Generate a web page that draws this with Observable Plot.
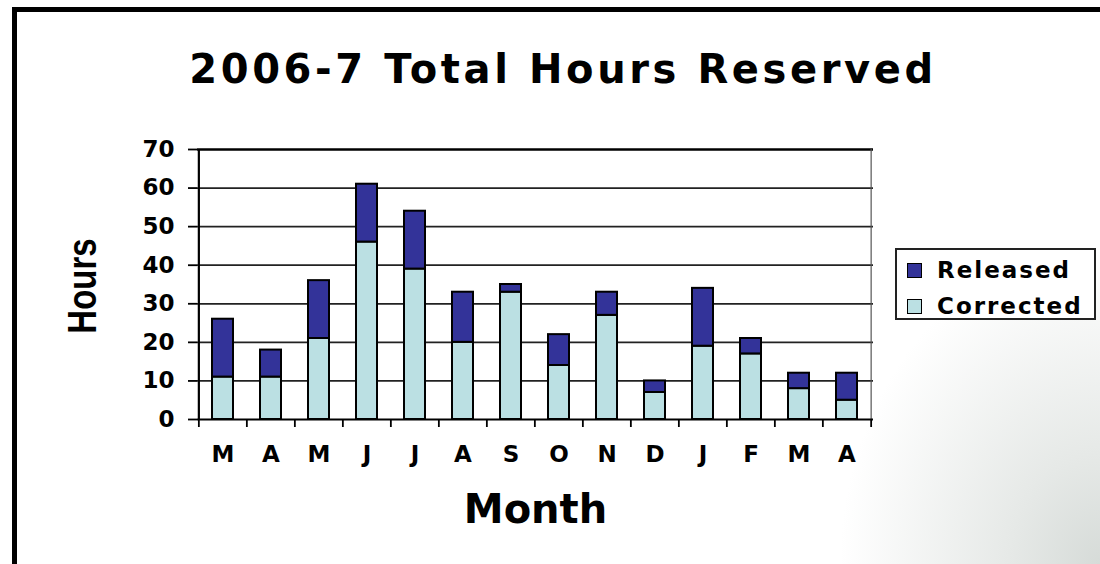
<!DOCTYPE html>
<html>
<head>
<meta charset="utf-8">
<script src="https://cdn.jsdelivr.net/npm/d3@7"></script>
<script src="https://cdn.jsdelivr.net/npm/@observablehq/plot@0.6"></script>
<style>
  html, body { margin: 0; padding: 0; background: #fff; }
  #wrap { position: relative; width: 1100px; height: 564px; overflow: hidden; background: #fff; }
  #shade { position: absolute; left: 600px; top: 100px; width: 500px; height: 464px;
    background: radial-gradient(ellipse 52% 68% at 100% 100%, #d6dbd8 0%, #e6e9e7 35%, rgba(255,255,255,0) 100%); }
  #frame { position: absolute; left: 12px; top: 7px; width: 1100px; height: 600px;
    border-left: 5px solid #000; border-top: 5px solid #000; box-sizing: border-box; }
  #chart { position: absolute; left: 0; top: 0; }
  #title { position: absolute; left: 0; width: 1126px; top: 49px; text-align: center;
    font: bold 40px/40px "DejaVu Sans", sans-serif; letter-spacing: 3.6px; color: #000; }
  #ylabel { position: absolute; left: 82px; top: 286px; width: 0; height: 0; }
  #ylabel span { position: absolute; left: 0; top: 0; white-space: nowrap;
    font: bold 33px/33px "Liberation Sans", Arial, sans-serif; color: #000;
    transform: translate(-50%, -50%) rotate(-90deg) scaleY(1.22); }
  #legend { position: absolute; left: 895px; top: 248px; width: 201px; height: 72px;
    border: 2px solid #222; box-sizing: border-box; background: #fff;
    font: bold 23px/23px "DejaVu Sans", sans-serif; letter-spacing: 2px; color: #000; }
  .item { position: absolute; left: 10px; height: 23px; white-space: nowrap; }
  .sw { position: absolute; left: 0; top: 4px; width: 15px; height: 15px; border: 1px solid #000; box-sizing: border-box; }
  .lab { position: absolute; left: 30px; top: 0; }
</style>
</head>
<body>
<div id="wrap">
  <div id="shade"></div>
  <div id="frame"></div>
  <div id="chart"></div>
  <div id="title"></div>
  <div id="ylabel"><span></span></div>
  <div id="legend"></div>
</div>
<script>
// ---- data ----
const titleText = "2006-7 Total Hours Reserved";
const yLabel = "Hours";
const xLabel = "Month";
const monthKeys = ["2006-03","2006-04","2006-05","2006-06","2006-07","2006-08","2006-09","2006-10","2006-11","2006-12","2007-01","2007-02","2007-03","2007-04"];
const monthLabels = ["M","A","M","J","J","A","S","O","N","D","J","F","M","A"];
const corrected = [11, 11, 21, 46, 39, 20, 33, 14, 27, 7, 19, 17, 8, 5];
const released  = [15,  7, 15, 15, 15, 13,  2,  8,  6, 3, 15,  4, 4, 7];
const yTicks = [0, 10, 20, 30, 40, 50, 60, 70];
const seriesNames = ["Released", "Corrected"];
const seriesColors = ["#333399", "#BBE0E3"];

// long-format table (Corrected first so it stacks at the bottom)
const rows = [];
monthKeys.forEach((m, i) => rows.push({month: m, series: "Corrected", value: corrected[i]}));
monthKeys.forEach((m, i) => rows.push({month: m, series: "Released", value: released[i]}));
const labelOf = new Map(monthKeys.map((k, i) => [k, monthLabels[i]]));

const W = 1100, H = 564, mL = 197, mR = 227, mT = 149, mB = 145;
const step = (W - mL - mR) / monthKeys.length;
const tickLen = 8 * 70 / (H - mT - mB); // 8px in data units

const chart = Plot.plot({
  width: W, height: H,
  marginLeft: mL, marginRight: mR, marginTop: mT, marginBottom: mB,
  style: {fontFamily: "DejaVu Sans", fontWeight: "bold", fontSize: "23px", color: "#000", background: "transparent", overflow: "visible"},
  x: {domain: monthKeys, paddingInner: 0.56, paddingOuter: 0.28, label: null},
  y: {domain: [0, 70], label: null},
  color: {domain: seriesNames, range: seriesColors},
  marks: [
    Plot.ruleY(yTicks.slice(1, -1), {stroke: "#222", strokeWidth: 1.7}),
    Plot.ruleY([70], {stroke: "#000", strokeWidth: 2.3}),
    Plot.ruleX([monthKeys[monthKeys.length - 1]], {dx: step / 2, stroke: "#555", strokeWidth: 1.2}),
    Plot.barY(rows, {x: "month", y: "value", z: "series", fill: "series", stroke: "#000", strokeWidth: 2}),
    Plot.ruleX(monthKeys, {dx: -step / 2, y1: 0, y2: -tickLen, stroke: "#000", strokeWidth: 1.8}),
    Plot.ruleX([monthKeys[monthKeys.length - 1]], {dx: step / 2, y1: 0, y2: -tickLen, stroke: "#000", strokeWidth: 1.8}),
    Plot.ruleX([monthKeys[0]], {dx: -step / 2, stroke: "#000", strokeWidth: 2.2}),
    Plot.ruleY([0], {stroke: "#000", strokeWidth: 2.2}),
    Plot.axisY({ticks: yTicks, tickSize: 9, tickPadding: 14, label: null, strokeWidth: 1.8, fontSize: 23}),
    Plot.axisX({tickSize: 0, tickPadding: 26, tickFormat: k => labelOf.get(k), label: null, fontSize: 23}),
    Plot.text([xLabel], {frameAnchor: "bottom", lineAnchor: "bottom", dy: 103, fontSize: 40, fontWeight: "bold", letterSpacing: 1})
  ]
});
document.getElementById("chart").appendChild(chart);

document.getElementById("title").textContent = titleText;
document.querySelector("#ylabel span").textContent = yLabel;

const legend = document.getElementById("legend");
seriesNames.forEach((name, i) => {
  const item = document.createElement("div");
  item.className = "item";
  item.style.top = (i === 0 ? 9 : 45) + "px";
  const sw = document.createElement("div");
  sw.className = "sw";
  sw.style.background = seriesColors[i];
  const lab = document.createElement("div");
  lab.className = "lab";
  lab.textContent = name;
  item.appendChild(sw);
  item.appendChild(lab);
  legend.appendChild(item);
});
</script>
</body>
</html>
